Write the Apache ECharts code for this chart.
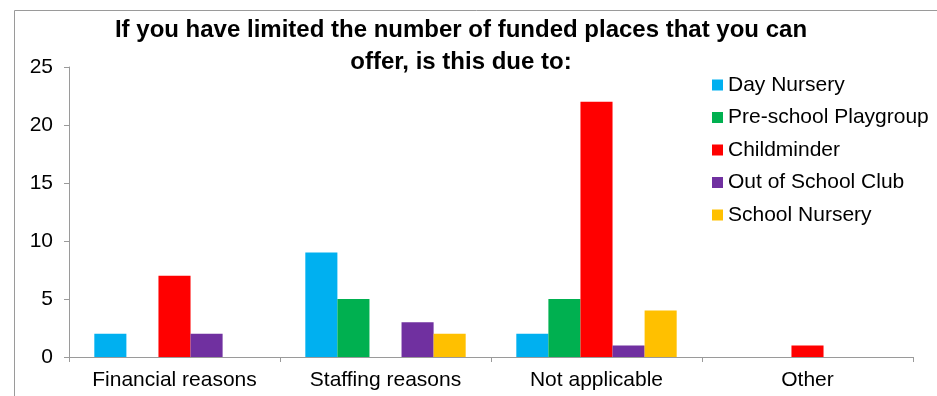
<!DOCTYPE html>
<html>
<head>
<meta charset="utf-8">
<script src="https://cdn.jsdelivr.net/npm/echarts@6/dist/echarts.min.js"></script>
<style>
  html, body { margin: 0; padding: 0; background: #fff; }
  #chart { width: 937px; height: 396px; }
</style>
</head>
<body>
<div id="chart"></div>
<script>
// Reasons for limiting funded places, by provider type
const categories = ['Financial reasons', 'Staffing reasons', 'Not applicable', 'Other'];
const seriesNames = ['Day Nursery', 'Pre-school Playgroup', 'Childminder', 'Out of School Club', 'School Nursery'];
const dayNursery = [2, 9, 2, 0];
const preschoolPlaygroup = [0, 5, 5, 0];
const childminder = [7, 0, 22, 1];
const outOfSchoolClub = [2, 3, 1, 0];
const schoolNursery = [0, 2, 4, 0];
const seriesColors = ['#00B0F0', '#00B050', '#FF0000', '#7030A0', '#FFC000'];

const seriesValues = [dayNursery, preschoolPlaygroup, childminder, outOfSchoolClub, schoolNursery];
const font = 'Liberation Sans, Arial, sans-serif';

const chart = echarts.init(document.getElementById('chart'), null, { renderer: 'canvas' });
chart.setOption({
  animation: false,
  backgroundColor: '#fff',
  title: {
    text: 'If you have limited the number of funded places that you can\noffer, is this due to:',
    left: 456,
    top: 9,
    textAlign: 'center',
    textStyle: { fontFamily: font, fontSize: 24, fontWeight: 'bold', color: '#000', lineHeight: 32 }
  },
  graphic: [{
    type: 'rect',
    shape: { x: 14.5, y: 10.5, width: 940, height: 400 },
    style: { fill: 'none', stroke: '#9a9a9a', lineWidth: 1 },
    silent: true,
    z: -1
  }],
  legend: {
    orient: 'vertical',
    left: 707,
    top: 68,
    itemWidth: 11,
    itemHeight: 11,
    itemGap: 8.5,
    icon: 'rect',
    data: seriesNames,
    textStyle: { fontFamily: font, fontSize: 21, color: '#000', lineHeight: 24, padding: [0, 0, 0, 0] }
  },
  grid: { left: 69, right: 24, top: 67, bottom: 39, containLabel: false },
  xAxis: {
    type: 'category',
    data: categories,
    axisLine: { lineStyle: { color: '#9a9a9a', width: 1 } },
    axisTick: { show: true, length: 5, lineStyle: { color: '#9a9a9a' } },
    axisLabel: { fontFamily: font, fontSize: 21, color: '#000', margin: 13, interval: 0 }
  },
  yAxis: {
    type: 'value',
    min: 0,
    max: 25,
    interval: 5,
    splitLine: { show: false },
    axisLine: { show: true, lineStyle: { color: '#9a9a9a', width: 1 } },
    axisTick: { show: true, length: 5, lineStyle: { color: '#9a9a9a' } },
    axisLabel: { fontFamily: font, fontSize: 21, color: '#000', margin: 16 }
  },
  series: seriesNames.map((name, i) => ({
    name: name,
    type: 'bar',
    data: seriesValues[i],
    barGap: '0%',
    barCategoryGap: '24%',
    itemStyle: { color: seriesColors[i] }
  }))
});
</script>
</body>
</html>
